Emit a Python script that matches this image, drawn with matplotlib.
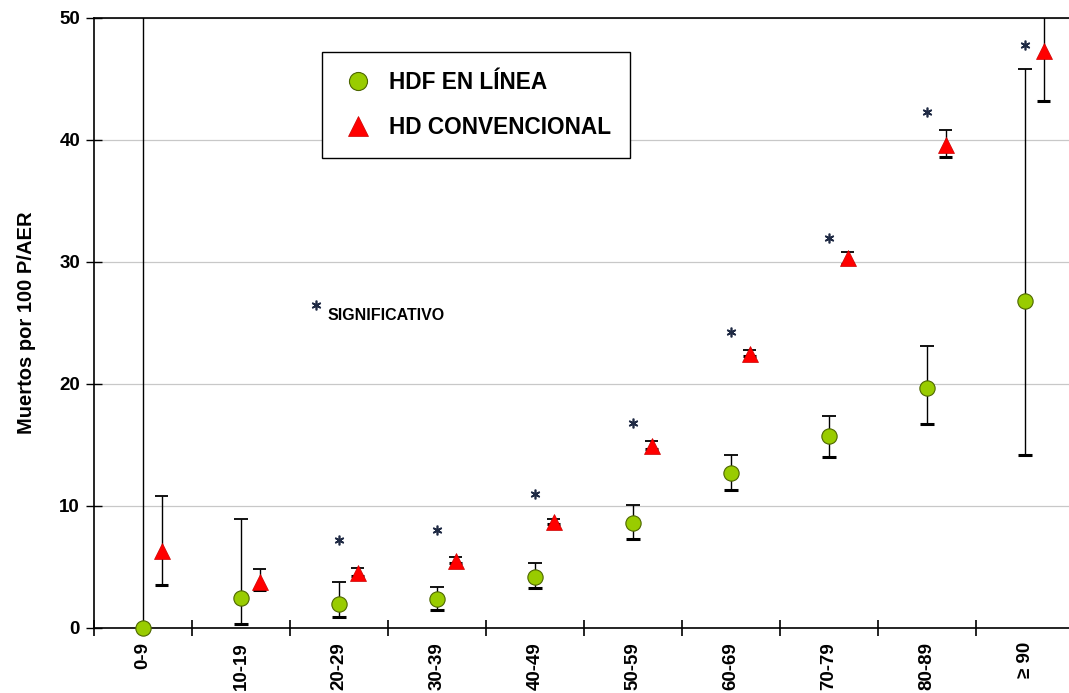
import matplotlib
matplotlib.use("Agg")
import matplotlib.pyplot as plt
from matplotlib.lines import Line2D

# age groups
categories = ["0-9", "10-19", "20-29", "30-39", "40-49",
              "50-59", "60-69", "70-79", "80-89", "≥ 90"]

# HDF en linea (circles)
hdf = [0.0, 2.5, 2.0, 2.4, 4.2, 8.6, 12.7, 15.7, 19.7, 26.8]
hdf_low = [0.0, 0.3, 0.9, 1.5, 3.3, 7.3, 11.3, 14.0, 16.7, 14.2]
hdf_high = [55.0, 8.9, 3.8, 3.4, 5.3, 10.1, 14.2, 17.4, 23.1, 45.8]

# HD convencional (triangles)
hd = [6.3, 3.8, 4.5, 5.5, 8.7, 14.9, 22.5, 30.3, 39.6, 47.3]
hd_low = [3.5, 3.1, 4.3, 5.3, 8.5, 14.7, 22.3, 29.8, 38.6, 43.2]
hd_high = [10.8, 4.8, 4.9, 5.8, 8.9, 15.3, 22.8, 30.8, 40.8, 55.0]

# significance marks (category index, height)
sig_idx = [2, 3, 4, 5, 6, 7, 8, 9]
sig_y = [7.2, 8.0, 11.0, 16.8, 24.3, 32.0, 42.3, 47.8]

FONT = "Liberation Sans"

fig = plt.figure(figsize=(10.69, 6.93), dpi=100)
ax = fig.add_axes([94 / 1069, 1 - 628 / 693, 980 / 1069, 610 / 693])

x = [i + 0.5 for i in range(len(categories))]
x_hd = [v + 0.19 for v in x]

# error bars (thick lower cap, thin upper cap)
ax.vlines(x, hdf_low, hdf_high, color="black", lw=1, zorder=2)
ax.vlines(x_hd, hd_low, hd_high, color="black", lw=1, zorder=2)
cw = 0.07
for xi, lo, hi in zip(x, hdf_low, hdf_high):
    if lo > 0:
        ax.hlines(lo, xi - cw, xi + cw, color="black", lw=2.2, zorder=2)
    ax.hlines(hi, xi - cw, xi + cw, color="black", lw=1.3, zorder=2)
for xi, lo, hi in zip(x_hd, hd_low, hd_high):
    ax.hlines(lo, xi - cw, xi + cw, color="black", lw=2.2, zorder=2)
    ax.hlines(hi, xi - cw, xi + cw, color="black", lw=1.3, zorder=2)

ax.plot(x, hdf, ls="none", marker="o", ms=11, mfc="#99cc00",
        mec="#4d6600", mew=0.8, zorder=3, clip_on=False)
ax.plot(x_hd, hd, ls="none", marker="^", ms=12, mfc="#ff0000",
        mec="#cc0000", mew=0.5, zorder=3)

# asterisks
ax.plot([x[i] for i in sig_idx], sig_y, ls="none", marker=(6, 2, 0),
        ms=7, mec="#1f2a44", mew=1.2, zorder=3)
ax.plot([2.27], [26.5], ls="none", marker=(6, 2, 0), ms=7,
        mec="#1f2a44", mew=1.2)
ax.text(2.38, 25.65, "SIGNIFICATIVO", fontsize=11.5, fontweight="bold",
        va="center", ha="left", family=FONT)

ax.set_xlim(0, 10)
ax.set_ylim(0, 50)
ax.set_yticks([0, 10, 20, 30, 40, 50])
ax.set_yticklabels(["0", "10", "20", "30", "40", "50"],
                   fontsize=13.5, fontweight="bold", family=FONT)
ax.yaxis.grid(True, color="#c8c8c8", lw=0.9)
ax.set_axisbelow(True)

ax.set_xticks(range(11))
ax.set_xticklabels([])
ax.set_xticks(x, minor=True)
ax.set_xticklabels(categories, minor=True, rotation=90, fontsize=13.5,
                   fontweight="bold", family=FONT)
ax.tick_params(axis="x", which="major", direction="inout", length=12,
               width=1.2)
ax.tick_params(axis="x", which="minor", length=0, pad=10)
ax.tick_params(axis="y", direction="inout", length=12, width=1, pad=4)

for s in ["left", "bottom", "top"]:
    ax.spines[s].set_linewidth(1.2)
ax.spines["right"].set_visible(False)

ax.set_ylabel("Muertos por 100 P/AER", fontsize=14.5, fontweight="bold",
              family=FONT, labelpad=17)

handles = [
    Line2D([], [], ls="none", marker="o", ms=13, mfc="#99cc00",
           mec="#4d6600", mew=0.8),
    Line2D([], [], ls="none", marker="^", ms=14, mfc="#ff0000",
           mec="#cc0000", mew=0.5),
]
leg = ax.legend(handles, ["HDF EN LÍNEA", "HD CONVENCIONAL"],
                loc="upper left", bbox_to_anchor=((322 - 94) / 980,
                                                  (628 - 52) / 610),
                frameon=True, fancybox=False, edgecolor="black",
                framealpha=1, borderpad=0.85, labelspacing=0.95,
                handlelength=1.45, handletextpad=0.65, borderaxespad=0,
                prop={"family": FONT, "weight": "bold", "size": 16.3})
leg.get_frame().set_linewidth(1.0)

fig.savefig("out.png", dpi=100)
